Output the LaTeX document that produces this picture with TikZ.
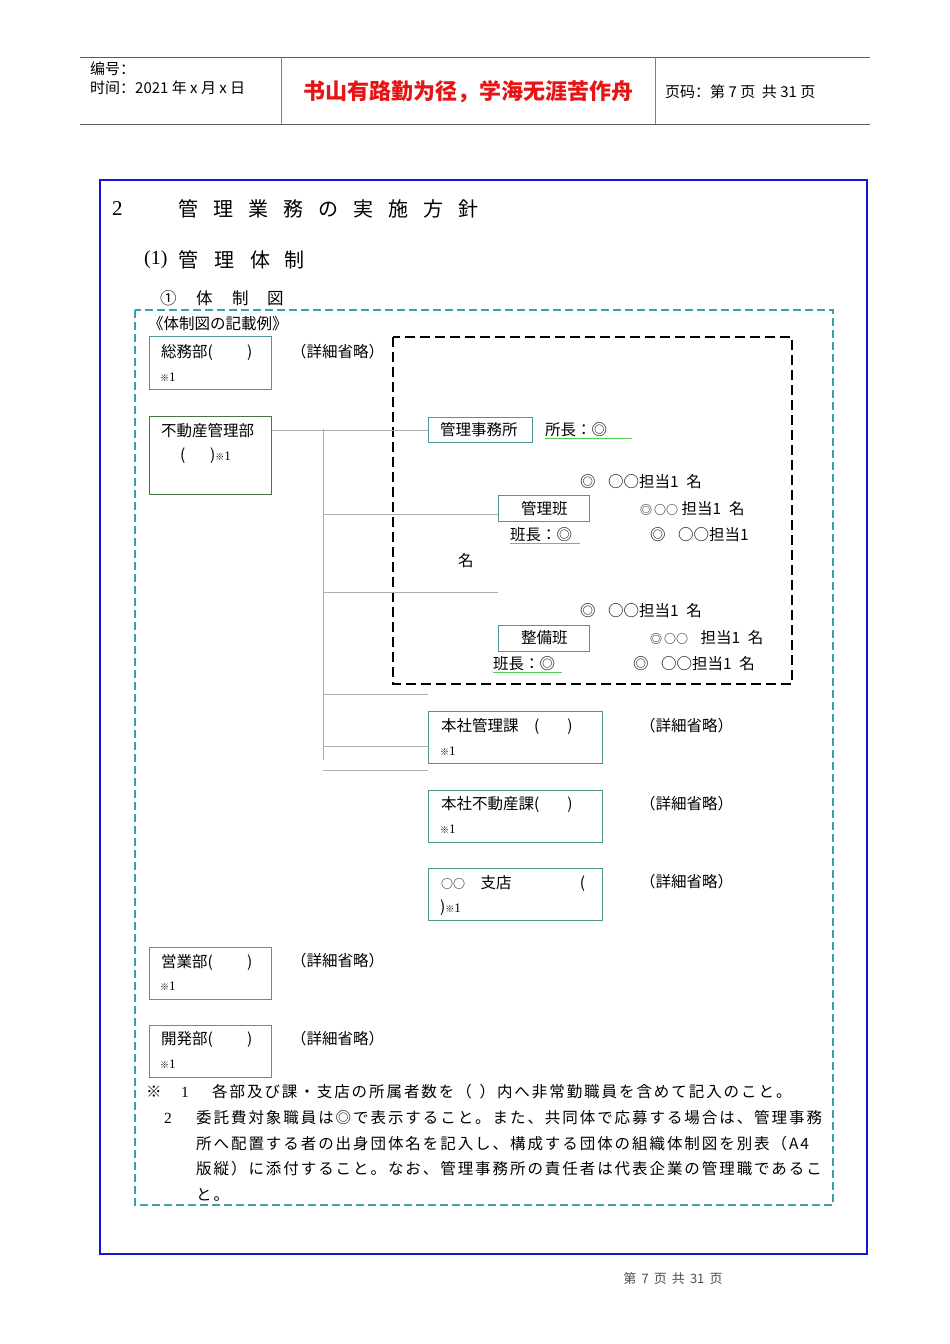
\documentclass[tikz,border=0pt]{standalone}
\usepackage{fontspec}
\setmainfont{Liberation Serif}
\newfontfamily\jp{Noto Sans CJK JP}
\newfontfamily\jpls[LetterSpace=12.5]{Noto Sans CJK JP}
\newfontfamily\cn{Noto Sans CJK SC}
\definecolor{frameblue}{RGB}{20,20,215}
\definecolor{tealc}{RGB}{60,160,165}
\definecolor{boxteal}{RGB}{80,150,150}
\definecolor{boxgreen}{RGB}{70,120,70}
\definecolor{boxtg}{RGB}{80,150,130}
\definecolor{ulgreen}{RGB}{80,210,80}
\definecolor{connc}{RGB}{175,175,175}
\definecolor{hdrline}{RGB}{90,90,90}
\definecolor{redtxt}{RGB}{230,20,20}
\newcommand\cb[2]{\makebox[#1pt][l]{#2}}
\newcommand\kome{{\fontsize{9}{9}\selectfont ※}{\fontsize{13}{13}\selectfont\rmfamily 1}}
\begin{document}
\begin{tikzpicture}[x=1pt,y=-1pt,
  txt/.style={inner sep=0pt,anchor=west,font={\jp\fontsize{15.5}{16}\selectfont}},
  hdr/.style={inner sep=0pt,anchor=west,font={\cn\fontsize{15}{16}\selectfont}},
  box/.style={draw=boxteal,line width=1.1pt,inner sep=0pt,anchor=north west},
  conn/.style={draw=connc,line width=0.9pt},
  ul/.style={draw=ulgreen,line width=1pt}]
\useasboundingbox (0,0) rectangle (950,1344);
% header
\draw[hdrline,line width=1pt] (80,57) -- (870,57);
\draw[hdrline,line width=1pt] (80,124) -- (870,124);
\draw[gray,line width=0.8pt] (281,57) -- (281,124);
\draw[gray,line width=0.8pt] (655,57) -- (655,124);
\node[hdr] (h1) at (90,69) {编号：};
\node[hdr] (h2) at (90,88) {时间：2021 年 x 月 x 日};
\node[inner sep=0pt,font={\cn\bfseries\fontsize{22}{22}\selectfont},text=redtxt] (h3) at (468,92) {书山有路勤为径，学海无涯苦作舟};
\node[hdr] (h4) at (665,92) {页码：第 7 页 \ 共 31 页};
% blue frame
\draw[frameblue,line width=2.5pt] (100,180) rectangle (867,1254);
% titles
\node[inner sep=0pt,anchor=west,font={\rmfamily\fontsize{21}{21}\selectfont}] (t0) at (112,209) {2};
\node[inner sep=0pt,anchor=west,font={\jp\fontsize{20}{20}\selectfont}] (t1) at (178,209)
  {\cb{35}{管}\cb{35}{理}\cb{35}{業}\cb{35}{務}\cb{35}{の}\cb{35}{実}\cb{35}{施}\cb{35}{方}針};
\node[inner sep=0pt,anchor=west,font={\rmfamily\fontsize{20}{20}\selectfont}] (t2) at (144,260) {(1)};
\node[inner sep=0pt,anchor=west,font={\jp\fontsize{20}{20}\selectfont}] (t3) at (178,260)
  {\cb{36}{管}\cb{36}{理}\cb{34}{体}制};
\node[inner sep=0pt,anchor=west,font={\jp\fontsize{16.5}{17}\selectfont}] (t4) at (160,298)
  {\cb{36}{①}\cb{36}{体}\cb{35}{制}図};
% teal dashed frame
\draw[tealc,line width=1.2pt,dash pattern=on 8pt off 4pt] (135,310) rectangle (833,1205);
\node[txt] (ex) at (148,324) {《体制図の記載例》};
% black dashed box
\draw[black,line width=2.4pt,dash pattern=on 10pt off 5pt] (393,337) rectangle (792,684);
% left boxes
\node[box,minimum width=122,minimum height=53] (somu) at (149,336) {};
\node[txt] (somuT) at (161,352) {総務部(\hspace{2.2em})};
\node[txt] (somuK) at (160,377) {\kome};
\node[txt] (somuD) at (291,352) {（詳細省略）};
\node[box,draw=boxgreen,minimum width=122,minimum height=78] (fudo) at (149,416) {};
\node[txt] (fudoT) at (161,431) {不動産管理部};
\node[txt] (fudoT2) at (180,456) {(\hspace{1.6em})\kome};
% office
\node[box,minimum width=104,minimum height=25] (jimu) at (428,417) {};
\node[txt] (jimuT) at (440,430) {管理事務所};
\node[txt] (shocho) at (545,430) {所長：◎};
\draw[ul] (545,438) -- (632,438);
\node[txt] (m1) at (580,482) {◎\hspace{0.8em}○○担当1\hspace{0.5em}名};
\node[box,minimum width=91,minimum height=26] (kanri) at (498,495) {};
\node[txt] (kanriT) at (521,509) {管理班};
\node[txt] (m2) at (640,509) {{\fontsize{12}{12}\selectfont ◎\,○○} 担当1\hspace{0.5em}名};
\node[txt] (hancho1) at (510,535) {班長：◎};
\draw[ul] (510,543) -- (580,543);
\node[txt] (m3) at (650,535) {◎\hspace{0.8em}○○担当1};
\node[txt] (m4) at (458,561) {名};
\node[txt] (s1) at (580,611) {◎\hspace{0.8em}○○担当1\hspace{0.5em}名};
\node[box,minimum width=91,minimum height=26] (seibi) at (498,625) {};
\node[txt] (seibiT) at (521,638) {整備班};
\node[txt] (s2) at (650,638) {{\fontsize{12}{12}\selectfont ◎\,○○}\hspace{0.8em}担当1\hspace{0.5em}名};
\node[txt] (hancho2) at (493,664) {班長：◎};
\draw[ul] (493,672) -- (562,672);
\node[txt] (s3) at (633,664) {◎\hspace{0.8em}○○担当1\hspace{0.5em}名};
% head office boxes
\node[box,draw=boxtg,minimum width=174,minimum height=52] (honk) at (428,711) {};
\node[txt] (honkT) at (441,726) {本社管理課\hspace{1em}(\hspace{1.8em})};
\node[txt] (honkK) at (440,751) {\kome};
\node[txt] (honkD) at (640,726) {（詳細省略）};
\node[box,draw=boxtg,minimum width=174,minimum height=52] (honf) at (428,790) {};
\node[txt] (honfT) at (441,804) {本社不動産課(\hspace{1.8em})};
\node[txt] (honfK) at (440,829) {\kome};
\node[txt] (honfD) at (640,804) {（詳細省略）};
\node[box,draw=boxtg,minimum width=174,minimum height=52] (shiten) at (428,868) {};
\node[txt] (shitenT) at (441,883) {{\fontsize{12}{12}\selectfont ○○}\hspace{1em}支店\hspace{4.4em}(};
\node[txt] (shitenK) at (440,908) {)\kome};
\node[txt] (shitenD) at (640,882) {（詳細省略）};
% lower left boxes
\node[box,minimum width=122,minimum height=52] (eigyo) at (149,947) {};
\node[txt] (eigyoT) at (161,962) {営業部(\hspace{2.2em})};
\node[txt] (eigyoK) at (160,986) {\kome};
\node[txt] (eigyoD) at (291,961) {（詳細省略）};
\node[box,minimum width=122,minimum height=52] (kaihatsu) at (149,1025) {};
\node[txt] (kaihatsuT) at (161,1040) {開発部(\hspace{2.2em})};
\node[txt] (kaihatsuK) at (160,1064) {\kome};
\node[txt] (kaihatsuD) at (291,1039) {（詳細省略）};
% connectors
\coordinate (trTop) at (323,429);
\coordinate (trBot) at (323,760);
\coordinate (b1) at (323,514);
\coordinate (b2) at (323,592);
\coordinate (b2e) at (498,592);
\coordinate (b3) at (323,694);
\coordinate (b4) at (323,746);
\coordinate (b5) at (323,770);
\draw[conn] (fudo.east |- jimu.west) -- (jimu.west);
\draw[conn] (trTop) -- (trBot);
\draw[conn] (b1) -- (b1 -| kanri.west);
\draw[conn] (b2) -- (b2e);
\draw[conn] (b3) -- (b3 -| honk.west);
\draw[conn] (b4) -- (b4 -| honk.west);
\draw[conn] (b5) -- (b5 -| honk.west);
% notes
\begin{scope}[every node/.style={inner sep=0pt,anchor=west,font={\jpls\fontsize{15.5}{16}\selectfont}}]
\node (n0) at (146,1092) {※};
\node (n1) at (181,1092) {\rmfamily 1};
\node (n1t) at (212,1092) {各部及び課・支店の所属者数を（\hspace{0.5em}）内へ非常勤職員を含めて記入のこと。};
\node (n2) at (164,1118) {\rmfamily 2};
\node (n2t) at (196,1118) {委託費対象職員は◎で表示すること。また、共同体で応募する場合は、管理事務};
\node (n3t) at (196,1144) {所へ配置する者の出身団体名を記入し、構成する団体の組織体制図を別表（A4};
\node (n4t) at (196,1169) {版縦）に添付すること。なお、管理事務所の責任者は代表企業の管理職であるこ};
\node (n5t) at (196,1195) {と。};
\end{scope}
% footer
\node[inner sep=0pt,text=black!70,font={\cn\fontsize{13}{13}\selectfont}] (foot) at (673,1279) {第 \,7\, 页 \,共\, 31\, 页};
\end{tikzpicture}
\end{document}
